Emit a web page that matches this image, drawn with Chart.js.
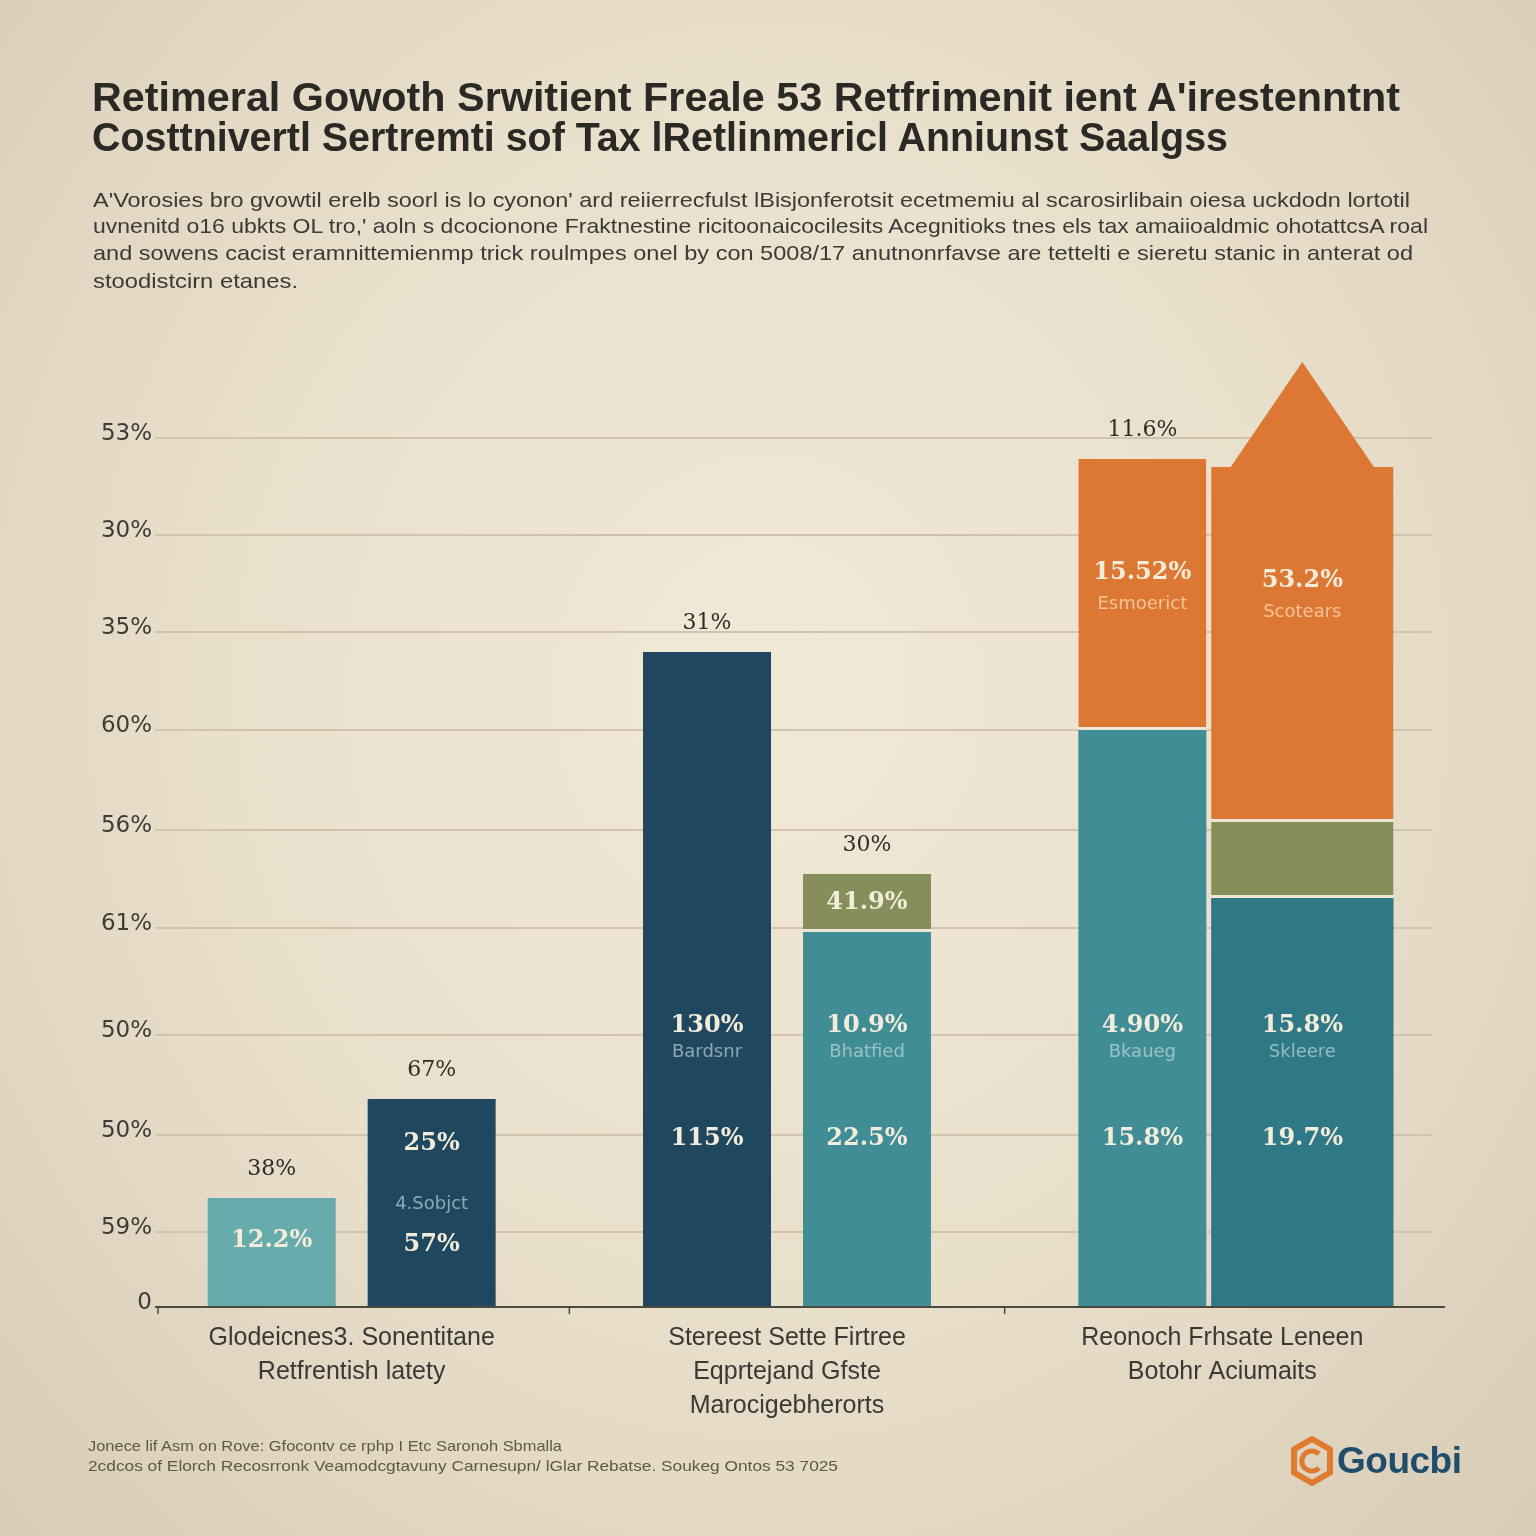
<!DOCTYPE html>
<html>
<head>
<meta charset="utf-8">
<script src="https://cdn.jsdelivr.net/npm/chart.js@4.4.1/dist/chart.umd.min.js"></script>
<style>
  html, body { margin: 0; padding: 0; }
  body {
    width: 1536px; height: 1536px; position: relative; overflow: hidden;
    background: radial-gradient(ellipse at 50% 45%, #f1e9d7 0%, #e9e0cc 50%, #d8ccb6 100%);
    font-family: "Liberation Sans", Arial, sans-serif;
  }
  .line { position: absolute; white-space: nowrap; display: inline-block; transform-origin: left center; }
  .title { font-weight: bold; font-size: 41px; line-height: 42px; color: #2a2925; }
  .sub { font-size: 21px; line-height: 27px; color: #3b3a34; }
  .foot { font-size: 15px; line-height: 18px; color: #5b5c3c; }
  #wrap { position: absolute; left: 0; top: 0; width: 1536px; height: 1536px; }
  #logo { position: absolute; left: 1290px; top: 1436px; display: flex; align-items: center; }
  #logo span { font-weight: bold; font-size: 37px; color: #1f4d6b; letter-spacing: -0.5px; margin-left: 3px; }
</style>
</head>
<body>
<div id="wrap"><canvas id="retChart"></canvas></div>

<div class="line title" style="left:92px; top:76px" data-w="1308">Retimeral Gowoth Srwitient Freale 53 Retfrimenit ient A'irestenntnt</div>
<div class="line title" style="left:92px; top:116px" data-w="1136">Costtnivertl Sertremti sof Tax lRetlinmericl Anniunst Saalgss</div>

<div class="line sub" style="left:93px; top:186px" data-w="1317">A'Vorosies bro gvowtil erelb soorl is lo cyonon' ard reiierrecfulst lBisjonferotsit ecetmemiu al scarosirlibain oiesa uckdodn lortotil</div>
<div class="line sub" style="left:93px; top:212px" data-w="1335">uvnenitd o16 ubkts OL tro,' aoln s dcocionone Fraktnestine ricitoonaicocilesits Acegnitioks tnes els tax amaiioaldmic ohotattcsA roal</div>
<div class="line sub" style="left:93px; top:239px" data-w="1320">and sowens cacist eramnittemienmp trick roulmpes onel by con 5008/17 anutnonrfavse are tettelti e sieretu stanic in anterat od</div>
<div class="line sub" style="left:93px; top:267px" data-w="205">stoodistcirn etanes.</div>

<div class="line foot" style="left:88px; top:1437px" data-w="474">Jonece lif Asm on Rove: Gfocontv ce rphp I Etc Saronoh Sbmalla</div>
<div class="line foot" style="left:88px; top:1457px" data-w="750">2cdcos of Elorch Recosrronk Veamodcgtavuny Carnesupn/ lGlar Rebatse. Soukeg Ontos 53 7025</div>

<div id="logo">
  <svg width="44" height="50" viewBox="0 0 44 50">
    <polygon points="22,3 40,13.5 40,36.5 22,47 4,36.5 4,13.5" fill="none" stroke="#e07a2e" stroke-width="6"/>
    <path d="M29 18 A10 10 0 1 0 29 32" fill="none" stroke="#e07a2e" stroke-width="5"/>
  </svg>
  <span>Goucbi</span>
</div>

<script>
// Categories and tick labels
const categories = [
    ["Glodeicnes3. Sonentitane", "Retfrentish latety"],
    ["Stereest Sette Firtree", "Eqprtejand Gfste", "Marocigebherorts"],
    ["Reonoch Frhsate Leneen", "Botohr Aciumaits"]
];
const tickValues = [0, 7.5, 17.2, 27.2, 37.9, 47.7, 57.7, 67.5, 77.2, 86.9];
const tickLabels = ["0", "59%", "50%", "50%", "61%", "56%", "60%", "35%", "30%", "53%"];

// Bar heights (left bar = stack A, right bar = stack B)
const baseA = [10.9, 65.5, 57.7];
const orangeA = [null, null, 27.1];
const baseB = [20.8, 37.5, 40.9];
const oliveB = [null, 5.8, 7.6];
const orangeB = [null, null, 35.5];

// Text printed on and above the bars
const topLabelsA = ["38%", "31%", "11.6%"];
const topLabelsB = ["67%", "30%", ""];
const notesA = [["12.2%"], ["130%", "Bardsnr", "115%"], ["4.90%", "Bkaueg", "15.8%"]];
const notesB = [["25%", "4.Sobjct", "57%"], ["10.9%", "Bhatfied", "22.5%"], ["15.8%", "Skleere", "19.7%"]];
const oliveNotes = ["", "41.9%", ""];
const orangeNotesA = [[], [], ["15.52%", "Esmoerict"]];
const orangeNotesB = [[], [], ["53.2%", "Scotears"]];

// Colours
const navy = "#1f4760", lightTeal = "#67abad", teal = "#408d95", deepTeal = "#2f7987";
const olive = "#868f5b", orange = "#dc7833", gapColor = "#efe7d5";

// fit the html text lines to their widths
document.querySelectorAll('[data-w]').forEach(el => {
    const w = el.getBoundingClientRect().width;
    el.style.transform = 'scaleX(' + (Number(el.dataset.w) / w) + ')';
});

const keepFirstTwo = arr => arr.map((v, i) => i < 2 ? v : null);
const keepLast = arr => arr.map((v, i) => i === 2 ? v : null);

const segGap = { top: 0, left: 0, right: 0, bottom: 3 };

const decorate = {
    id: 'decorate',
    afterLayout(chart) {
        // category band is a bit wider than the plotted grid
        const x = chart.scales.x;
        x.left = 134;
        x.right = 1440;
        x.width = x.right - x.left;
        x.configure();
    },
    afterDatasetsDraw(chart) {
        const ctx = chart.ctx, y = chart.scales.y, x = chart.scales.x, area = chart.chartArea;
        const bar = (ds, i) => chart.getDatasetMeta(ds).data[i];
        ctx.save();

        // axis line and ticks
        const y0 = Math.round(y.getPixelForValue(0));
        ctx.strokeStyle = '#4b4a3e';
        ctx.lineWidth = 2;
        ctx.beginPath(); ctx.moveTo(155, y0); ctx.lineTo(area.right + 13, y0); ctx.stroke();
        const marks = [158];
        for (let i = 0; i < categories.length - 1; i++) {
            marks.push((x.getPixelForValue(i) + x.getPixelForValue(i + 1)) / 2);
        }
        ctx.lineWidth = 1.5;
        marks.forEach(mx => {
            ctx.beginPath(); ctx.moveTo(mx, y0); ctx.lineTo(mx, y0 + 7); ctx.stroke();
        });

        // arrow on top of last bar
        const tip = bar(6, 2);
        ctx.fillStyle = orange;
        ctx.beginPath();
        ctx.moveTo(tip.x - 73, tip.y + 2);
        ctx.lineTo(tip.x, tip.y - 105);
        ctx.lineTo(tip.x + 73, tip.y + 2);
        ctx.closePath();
        ctx.fill();

        ctx.textAlign = 'center';
        ctx.textBaseline = 'middle';
        const big = 'bold 24px "DejaVu Serif"';
        const small = '18px "DejaVu Sans"';
        const light = '#f3ecda';

        categories.forEach((c, i) => {
            const a = bar(0, i);
            const topA = orangeA[i] ? bar(1, i) : a;
            const b = i < 2 ? bar(2, i) : bar(4, i);
            const topB = i < 2 ? (oliveB[i] ? bar(3, i) : b) : bar(6, i);

            ctx.fillStyle = '#2e2d28';
            ctx.font = '22px "DejaVu Serif"';
            if (topLabelsA[i]) ctx.fillText(topLabelsA[i], topA.x, topA.y - 29);
            if (topLabelsB[i]) ctx.fillText(topLabelsB[i], topB.x, topB.y - 29);

            [[a, notesA[i]], [b, notesB[i]]].forEach(([el, notes]) => {
                const h = el.base - el.y;
                let offs;
                if (notes.length === 1) offs = [65];
                else if (h < 300) offs = [162, 102, 61];
                else offs = [280, 254, 167];
                notes.forEach((t, k) => {
                    const isSmall = notes.length === 3 && k === 1;
                    ctx.font = isSmall ? small : big;
                    ctx.fillStyle = isSmall ? 'rgba(205,228,228,0.62)' : light;
                    ctx.fillText(t, el.x, el.base - offs[k]);
                });
            });

            if (oliveNotes[i]) {
                const o = bar(3, i);
                ctx.font = big; ctx.fillStyle = light;
                ctx.fillText(oliveNotes[i], o.x, (o.y + o.base) / 2);
            }
            [[orangeA[i] ? bar(1, i) : null, orangeNotesA[i]], [i === 2 ? bar(6, i) : null, orangeNotesB[i]]].forEach(([el, notes]) => {
                if (!el || !notes.length) return;
                ctx.font = big; ctx.fillStyle = light;
                ctx.fillText(notes[0], el.x, el.y + 114);
                ctx.font = small; ctx.fillStyle = 'rgba(250,214,178,0.8)';
                ctx.fillText(notes[1], el.x, el.y + 145);
            });
        });
        ctx.restore();
    }
};

const narrow = 0.8, wide = 1.14;

new Chart(document.getElementById('retChart'), {
    type: 'bar',
    data: {
        labels: categories,
        datasets: [
            { data: baseA, stack: 'a', backgroundColor: [lightTeal, navy, teal], barPercentage: narrow },
            { data: orangeA, stack: 'a', backgroundColor: orange, barPercentage: narrow,
              borderColor: gapColor, borderWidth: segGap, borderSkipped: false },
            { data: keepFirstTwo(baseB), stack: 'b', backgroundColor: [navy, teal, deepTeal], barPercentage: narrow },
            { data: keepFirstTwo(oliveB), stack: 'b', backgroundColor: olive, barPercentage: narrow,
              borderColor: gapColor, borderWidth: segGap, borderSkipped: false },
            { data: keepLast(baseB), stack: 'b', backgroundColor: deepTeal, barPercentage: wide },
            { data: keepLast(oliveB), stack: 'b', backgroundColor: olive, barPercentage: wide,
              borderColor: gapColor, borderWidth: segGap, borderSkipped: false },
            { data: orangeB, stack: 'b', backgroundColor: orange, barPercentage: wide,
              borderColor: gapColor, borderWidth: segGap, borderSkipped: false }
        ]
    },
    options: {
        responsive: true,
        maintainAspectRatio: false,
        animation: false,
        layout: { padding: { top: 407, right: 104, bottom: 0, left: 0 } },
        plugins: { legend: { display: false }, tooltip: { enabled: false } },
        datasets: { bar: { categoryPercentage: 0.735 } },
        scales: {
            x: {
                stacked: true,
                grid: { display: false, drawTicks: false },
                border: { display: false },
                afterFit: s => { s.height = 229; },
                ticks: {
                    color: '#3a3935',
                    font: { family: 'Liberation Sans', size: 25, lineHeight: 1.36 },
                    padding: 14,
                    maxRotation: 0,
                    autoSkip: false
                }
            },
            y: {
                stacked: true,
                min: 0,
                max: 90,
                grid: { color: '#d0c4ae', lineWidth: 2, drawTicks: false },
                border: { display: false },
                afterFit: s => { s.width = 155; },
                afterBuildTicks: s => { s.ticks = tickValues.map(v => ({ value: v })); },
                ticks: {
                    color: '#3d3c36',
                    font: { family: 'DejaVu Sans', size: 23 },
                    padding: 3,
                    labelOffset: -4,
                    callback: (v, i) => tickLabels[i]
                }
            }
        }
    },
    plugins: [decorate]
});
</script>
</body>
</html>
